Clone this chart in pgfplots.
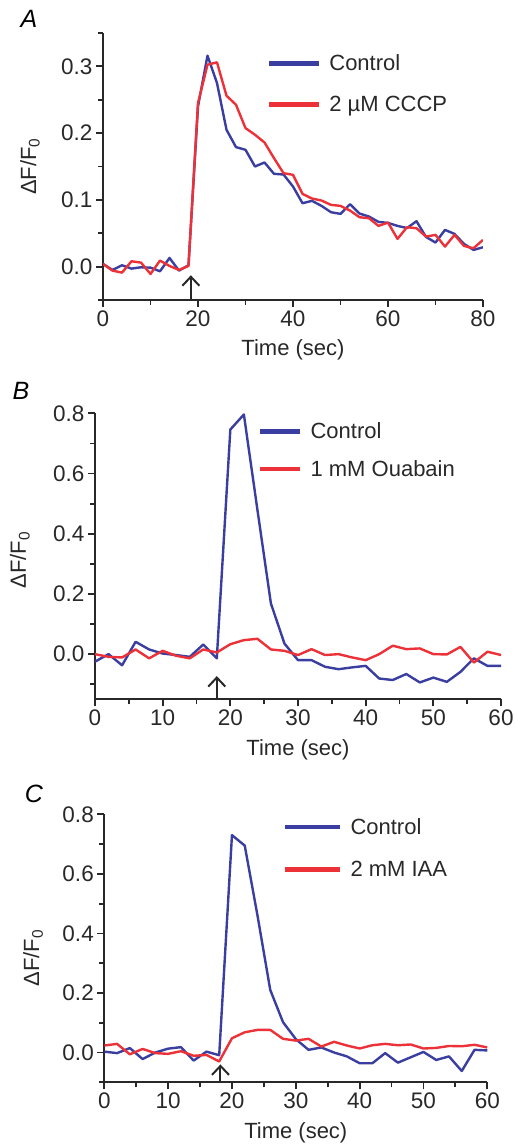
\documentclass[border=0pt]{standalone}
\usepackage{pgfplots}
\pgfplotsset{compat=1.18}
\usepackage{fontspec}
\setmainfont{Liberation Sans}
\usetikzlibrary{arrows.meta}
\definecolor{cblue}{RGB}{58,62,160}
\definecolor{cred}{RGB}{236,50,56}
\definecolor{axc}{RGB}{40,40,40}

\pgfplotstableread{
x y
0 0.004
2 -0.005
4 0.002
6 -0.003
8 -0.001
10 -0.0015
12 -0.007
14 0.013
16 -0.006
18 0.002
20 0.24
22 0.316
24 0.275
26 0.205
28 0.179
30 0.175
32 0.150
34 0.156
36 0.139
38 0.138
40 0.120
42 0.095
44 0.0985
46 0.091
48 0.0815
50 0.079
52 0.0935
54 0.0795
56 0.075
58 0.067
60 0.0655
62 0.061
64 0.0578
66 0.068
68 0.0445
70 0.036
72 0.055
74 0.049
76 0.034
78 0.025
80 0.029
}\Actrl
\pgfplotstableread{
x y
0 0.004
2 -0.006
4 -0.009
6 0.008
8 0.006
10 -0.011
12 0.009
14 0.001
16 -0.005
18 0.001
20 0.245
22 0.3025
24 0.306
26 0.256
28 0.2425
30 0.2075
32 0.1975
34 0.186
36 0.1625
38 0.140
40 0.1375
42 0.109
44 0.102
46 0.099
48 0.0925
50 0.091
52 0.084
54 0.074
56 0.0725
58 0.061
60 0.066
62 0.0415
64 0.059
66 0.0575
68 0.045
70 0.0475
72 0.030
74 0.0475
76 0.031
78 0.0275
80 0.040
}\Acccp
\pgfplotstableread{
x y
0 -0.025
2 0.0
4 -0.037
6 0.041
8 0.0155
10 0.002
12 -0.003
14 -0.009
16 0.032
18 -0.014
20 0.746
22 0.796
24 0.48
26 0.168
28 0.035
30 -0.02
32 -0.02
34 -0.042
36 -0.05
38 -0.044
40 -0.039
42 -0.081
44 -0.086
46 -0.066
48 -0.094
50 -0.078
52 -0.092
54 -0.059
56 -0.014
58 -0.039
60 -0.039
}\Bctrl
\pgfplotstableread{
x y
0 0.0
2 -0.009
4 -0.011
6 0.0155
8 -0.014
10 0.011
12 -0.0055
14 -0.014
16 0.0155
18 0.0055
20 0.033
22 0.0465
24 0.051
26 0.0155
28 0.011
30 -0.003
32 0.0166
34 -0.003
36 0.0
38 -0.011
40 -0.02
42 0.0
44 0.028
46 0.0166
48 0.019
50 0.0
52 -0.001
54 0.024
56 -0.028
58 0.008
60 -0.003
}\Bouab
\pgfplotstableread{
x y
0 0.003
2 -0.002
4 0.015
6 -0.022
8 0.0
10 0.013
12 0.018
14 -0.027
16 0.003
18 -0.009
20 0.730
22 0.695
24 0.46
26 0.21
28 0.102
30 0.045
32 0.009
34 0.017
36 0.0
38 -0.013
40 -0.036
42 -0.036
44 -0.002
46 -0.034
48 -0.016
50 0.002
52 -0.025
54 -0.013
56 -0.062
58 0.009
60 0.007
}\Cctrl
\pgfplotstableread{
x y
0 0.0235
2 0.029
4 -0.006
6 0.012
8 -0.002
10 -0.0045
12 0.0045
14 -0.011
16 -0.008
18 -0.030
20 0.048
22 0.068
24 0.076
26 0.076
28 0.046
30 0.040
32 0.046
34 0.020
36 0.036
38 0.0235
40 0.0135
42 0.0245
44 0.029
46 0.0245
48 0.027
50 0.0135
52 0.0155
54 0.022
56 0.021
58 0.026
60 0.017
}\Ciaa

\pgfplotsset{
 panel/.style={
  scale only axis,
  axis lines*=left,
  tick align=outside,
  axis line style={line width=2pt, axc},
  tick style={line width=1.8pt, axc},
  major tick length=7pt,
  minor tick length=5pt,
  tick label style={font=\fontsize{22.5}{27}\selectfont, text=axc},
  label style={font=\fontsize{22}{26}\selectfont, text=axc},
  /pgf/number format/assume math mode=true,
  yticklabel style={/pgf/number format/.cd, fixed, fixed zerofill, precision=1},
  legend style={draw=none, fill=none, inner sep=0pt, outer sep=0pt,
    font=\fontsize{22}{26}\selectfont, text=axc,
    nodes={inner sep=0pt, anchor=west}, column sep=8pt},
  legend cell align=left,
  every axis plot/.append style={line width=2.4pt, line join=round},
  xlabel={Time (sec)},
  ylabel={ΔF/F\textsubscript{0}},
 }
}

\begin{document}
\begin{tikzpicture}
\path[use as bounding box] (0pt,0pt) rectangle (514pt,1145pt);

% Panel A
\node[font=\itshape\fontsize{25}{30}\selectfont, text=black] at (29pt,1126pt) {A};
\begin{axis}[panel,
  at={(103pt,845pt)}, anchor=south west,
  width=380pt, height=267pt,
  xmin=0, xmax=80, ymin=-0.05, ymax=0.35,
  xtick={0,20,40,60,80}, minor xtick={10,30,50,70},
  ytick={0,0.1,0.2,0.3}, minor ytick={-0.05,0.05,0.15,0.25,0.35},
  xlabel style={at={(axis description cs:0.5,-0.187)}, anchor=center},
  ylabel style={at={(axis description cs:-0.192,0.5)}, anchor=center},
  legend image code/.code={\draw[line width=4.5pt] (0pt,0pt) -- (50pt,0pt);},
  legend style={at={(axis cs:34.5,0.3175)}, anchor=north west, row sep=24pt},
]
\addplot[cblue] table[x=x,y=y] {\Actrl};
\addlegendentry{Control}
\addplot[cred] table[x=x,y=y] {\Acccp};
\addlegendentry{2 µM CCCP}
\draw[line width=2pt, axc, -{Straight Barb[length=9pt, width=17pt]}] (axis cs:18.5,-0.05) -- (axis cs:18.5,-0.013);
\end{axis}

% Panel B
\node[font=\itshape\fontsize{25}{30}\selectfont, text=black] at (21pt,754pt) {B};
\begin{axis}[panel,
  at={(95pt,445.7pt)}, anchor=south west,
  width=406pt, height=286pt,
  xmin=0, xmax=60, ymin=-0.15, ymax=0.8,
  xtick={0,10,...,60}, minor xtick={5,15,...,55},
  ytick={0,0.2,0.4,0.6,0.8}, minor ytick={-0.1,0.1,0.3,0.5,0.7},
  xlabel style={at={(axis description cs:0.5,-0.177)}, anchor=center},
  ylabel style={at={(axis description cs:-0.185,0.487)}, anchor=center},
  legend image code/.code={\draw[line width=4.5pt] (0pt,0pt) -- (40pt,0pt);},
  legend style={at={(axis cs:24.1,0.768)}, anchor=north west, row sep=20pt},
]
\addplot[cblue] table[x=x,y=y] {\Bctrl};
\addlegendentry{Control}
\addplot[cred] table[x=x,y=y] {\Bouab};
\addlegendentry{1 mM Ouabain}
\draw[line width=2pt, axc, -{Straight Barb[length=9pt, width=17pt]}] (axis cs:18,-0.15) -- (axis cs:18,-0.073);
\end{axis}

% Panel C
\node[font=\itshape\fontsize{25}{30}\selectfont, text=black] at (34pt,351.5pt) {C};
\begin{axis}[panel,
  at={(104.3pt,62.7pt)}, anchor=south west,
  width=383pt, height=268pt,
  xmin=0, xmax=60, ymin=-0.1, ymax=0.8,
  xtick={0,10,...,60}, minor xtick={5,15,...,55},
  ytick={0,0.2,0.4,0.6,0.8}, minor ytick={-0.1,0.1,0.3,0.5,0.7},
  xlabel style={at={(axis description cs:0.5,-0.189)}, anchor=center},
  ylabel style={at={(axis description cs:-0.186,0.464)}, anchor=center},
  legend image code/.code={\draw[line width=4.5pt] (0pt,0pt) -- (55pt,0pt);},
  legend style={at={(axis cs:28.0,0.786)}, anchor=north west, row sep=25pt},
]
\addplot[cblue] table[x=x,y=y] {\Cctrl};
\addlegendentry{Control}
\addplot[cred] table[x=x,y=y] {\Ciaa};
\addlegendentry{2 mM IAA}
\draw[line width=2pt, axc, -{Straight Barb[length=9pt, width=17pt]}] (axis cs:18.2,-0.1) -- (axis cs:18.2,-0.04);
\end{axis}
\end{tikzpicture}
\end{document}
